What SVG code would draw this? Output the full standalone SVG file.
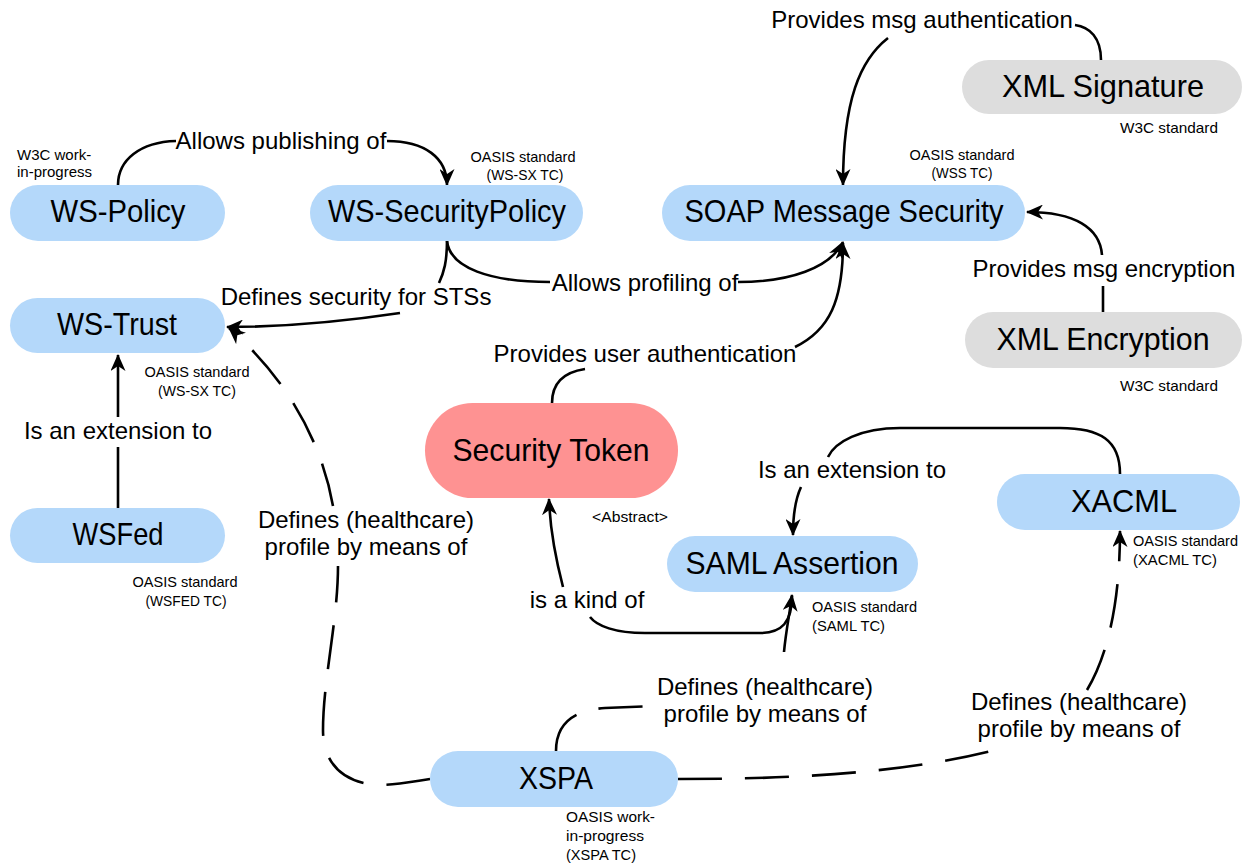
<svg xmlns="http://www.w3.org/2000/svg" width="1249" height="864" viewBox="0 0 1249 864">
<style>
.blue{fill:#b4d8fa}
.gray{fill:#dddddd}
.pink{fill:#fe9292}
.nl{font-family:"Liberation Sans",Arial,sans-serif;font-size:32px;fill:#000;text-anchor:middle}
.el{font-family:"Liberation Sans",Arial,sans-serif;font-size:24px;fill:#000;text-anchor:middle}
.sm{font-family:"Liberation Sans",Arial,sans-serif;font-size:15px;fill:#000}
.mid{text-anchor:middle}
.c{fill:none;stroke:#000;stroke-width:2.6}
.d{stroke-dasharray:44 23}
</style>
<defs>
<marker id="ah" markerUnits="userSpaceOnUse" markerWidth="17" markerHeight="15" viewBox="0 0 17 15" refX="16" refY="7.5" orient="auto">
<path d="M0,0 L17,7.5 L0,15 L5,7.5 z" fill="#000"/>
</marker>
</defs>

<g id="connectors">
<!-- WS-Policy -> WS-SecurityPolicy -->
<path class="c" d="M118,185 C118,160 140,142 176,141"/>
<path class="c" d="M387,141 C425,141 447,158 447,185" marker-end="url(#ah)"/>
<!-- XML Signature -> SOAP -->
<path class="c" d="M1101,60 C1101,38 1090,27 1075,25"/>
<path class="c" d="M888,38 C860,60 843,100 843,185" marker-end="url(#ah)"/>
<!-- XML Encryption -> SOAP -->
<path class="c" d="M1103,312 L1103,286"/>
<path class="c" d="M1102,255 C1100,228 1075,212 1027,212" marker-end="url(#ah)"/>
<!-- WS-SecurityPolicy -> WS-Trust -->
<path class="c" d="M447,240 C447,262 444,272 439,283"/>
<path class="c" d="M400,313 C340,322 280,327 227,327" marker-end="url(#ah)"/>
<!-- WS-SecurityPolicy -> SOAP -->
<path class="c" d="M447,241 C450,268 490,282 550,282"/>
<path class="c" d="M738,282 C790,282 830,268 843,242" marker-end="url(#ah)"/>
<!-- Security Token -> SOAP -->
<path class="c" d="M552,403 C552,382 565,372 585,369"/>
<path class="c" d="M795,347 C830,330 843,300 843,243" marker-end="url(#ah)"/>
<!-- WSFed -> WS-Trust -->
<path class="c" d="M118,508 L118,447"/>
<path class="c" d="M118,417 L118,355" marker-end="url(#ah)"/>
<!-- XSPA -> WS-Trust (dashed) -->
<path class="c d" d="M430,779 C410,782 395,785 378,785 C345,783 323,765 323,730 C323,680 338,620 338,566"/>
<path class="c d" d="M333,506 C325,460 300,390 229,328" marker-end="url(#ah)"/>
<!-- XSPA -> SAML (dashed) -->
<path class="c d" d="M556,751 C556,725 572,710 605,708 L656,706"/>
<path class="c" d="M784,652 C786,630 790,612 792,595" marker-end="url(#ah)"/>
<!-- XSPA -> XACML (dashed) -->
<path class="c d" d="M678,779 C780,779 900,775 999,749"/>
<path class="c d" d="M1087,690 C1105,660 1120,610 1120,531" marker-end="url(#ah)"/>
<!-- XACML -> SAML -->
<path class="c" d="M1120,474 C1120,440 1100,428 1060,428 L900,428 C860,428 835,442 828,457"/>
<path class="c" d="M801,487 C795,500 793,515 793,535" marker-end="url(#ah)"/>
<!-- SAML -> Security Token -->
<path class="c" d="M792,596 C792,622 782,633 760,633 L645,633 C615,633 597,626 590,617"/>
<path class="c" d="M563,587 C556,560 550,530 549,499" marker-end="url(#ah)"/>
</g>

<g id="edge-labels">
<text class="el" x="281" y="149">Allows publishing of</text>
<text class="el" x="922" y="28">Provides msg authentication</text>
<text class="el" x="1104" y="277">Provides msg encryption</text>
<text class="el" x="356" y="305">Defines security for STSs</text>
<text class="el" x="645" y="291">Allows profiling of</text>
<text class="el" x="645" y="362">Provides user authentication</text>
<text class="el" x="118" y="439">Is an extension to</text>
<text class="el" x="852" y="478">Is an extension to</text>
<text class="el" x="587" y="608">is a kind of</text>
<text class="el" x="366" y="528">Defines (healthcare)</text>
<text class="el" x="366" y="555">profile by means of</text>
<text class="el" x="765" y="695">Defines (healthcare)</text>
<text class="el" x="765" y="722">profile by means of</text>
<text class="el" x="1079" y="710">Defines (healthcare)</text>
<text class="el" x="1079" y="737">profile by means of</text>
</g>

<g id="ws-policy">
<rect class="blue" x="10" y="185" width="215" height="56" rx="28"/>
<text class="nl" x="118" y="222" textLength="135" lengthAdjust="spacingAndGlyphs">WS-Policy</text>
<text class="sm" x="17" y="160">W3C work-</text>
<text class="sm" x="17" y="177">in-progress</text>
</g>

<g id="ws-securitypolicy">
<rect class="blue" x="310" y="185" width="273" height="56" rx="28"/>
<text class="nl" x="447" y="222" textLength="238" lengthAdjust="spacingAndGlyphs">WS-SecurityPolicy</text>
<text class="sm mid" x="523" y="162" textLength="105" lengthAdjust="spacingAndGlyphs">OASIS standard</text>
<text class="sm mid" x="525" y="180" textLength="77" lengthAdjust="spacingAndGlyphs">(WS-SX TC)</text>
</g>

<g id="soap-message-security">
<rect class="blue" x="662" y="185" width="363" height="56" rx="28"/>
<text class="nl" x="844" y="222" textLength="319" lengthAdjust="spacingAndGlyphs">SOAP Message Security</text>
<text class="sm mid" x="962" y="160" textLength="105" lengthAdjust="spacingAndGlyphs">OASIS standard</text>
<text class="sm mid" x="962" y="178" textLength="61" lengthAdjust="spacingAndGlyphs">(WSS TC)</text>
</g>

<g id="xml-signature">
<rect class="gray" x="962" y="60" width="280" height="54" rx="27"/>
<text class="nl" x="1103" y="97" textLength="202" lengthAdjust="spacingAndGlyphs">XML Signature</text>
<text class="sm" x="1120" y="133" textLength="98" lengthAdjust="spacingAndGlyphs">W3C standard</text>
</g>

<g id="xml-encryption">
<rect class="gray" x="965" y="312" width="277" height="56" rx="28"/>
<text class="nl" x="1103" y="350" textLength="213" lengthAdjust="spacingAndGlyphs">XML Encryption</text>
<text class="sm" x="1120" y="391" textLength="98" lengthAdjust="spacingAndGlyphs">W3C standard</text>
</g>

<g id="ws-trust">
<rect class="blue" x="10" y="298" width="215" height="55" rx="27.5"/>
<text class="nl" x="117" y="335" textLength="120" lengthAdjust="spacingAndGlyphs">WS-Trust</text>
<text class="sm mid" x="197" y="377" textLength="105" lengthAdjust="spacingAndGlyphs">OASIS standard</text>
<text class="sm mid" x="197" y="396" textLength="78" lengthAdjust="spacingAndGlyphs">(WS-SX TC)</text>
</g>

<g id="wsfed">
<rect class="blue" x="10" y="508" width="215" height="55" rx="27.5"/>
<text class="nl" x="118" y="545" textLength="91" lengthAdjust="spacingAndGlyphs">WSFed</text>
<text class="sm mid" x="185" y="587" textLength="105" lengthAdjust="spacingAndGlyphs">OASIS standard</text>
<text class="sm mid" x="186" y="606" textLength="81" lengthAdjust="spacingAndGlyphs">(WSFED TC)</text>
</g>

<g id="security-token">
<rect class="pink" x="425" y="403" width="253" height="95" rx="47.5"/>
<text class="nl" x="551" y="461" textLength="197" lengthAdjust="spacingAndGlyphs">Security Token</text>
<text class="sm" x="592" y="522" textLength="76" lengthAdjust="spacingAndGlyphs">&lt;Abstract&gt;</text>
</g>

<g id="saml-assertion">
<rect class="blue" x="667" y="536" width="251" height="56" rx="28"/>
<text class="nl" x="792" y="574" textLength="213" lengthAdjust="spacingAndGlyphs">SAML Assertion</text>
<text class="sm" x="812" y="612" textLength="105" lengthAdjust="spacingAndGlyphs">OASIS standard</text>
<text class="sm" x="812" y="631" textLength="73" lengthAdjust="spacingAndGlyphs">(SAML TC)</text>
</g>

<g id="xacml">
<rect class="blue" x="997" y="474" width="243" height="56" rx="28"/>
<text class="nl" x="1124" y="512" textLength="106" lengthAdjust="spacingAndGlyphs">XACML</text>
<text class="sm" x="1133" y="546" textLength="105" lengthAdjust="spacingAndGlyphs">OASIS standard</text>
<text class="sm" x="1133" y="565" textLength="84" lengthAdjust="spacingAndGlyphs">(XACML TC)</text>
</g>

<g id="xspa">
<rect class="blue" x="430" y="751" width="248" height="56" rx="28"/>
<text class="nl" x="556" y="789" textLength="74" lengthAdjust="spacingAndGlyphs">XSPA</text>
<text class="sm" x="566" y="822" textLength="89" lengthAdjust="spacingAndGlyphs">OASIS work-</text>
<text class="sm" x="566" y="841" textLength="78" lengthAdjust="spacingAndGlyphs">in-progress</text>
<text class="sm" x="566" y="860" textLength="70" lengthAdjust="spacingAndGlyphs">(XSPA TC)</text>
</g>
</svg>
